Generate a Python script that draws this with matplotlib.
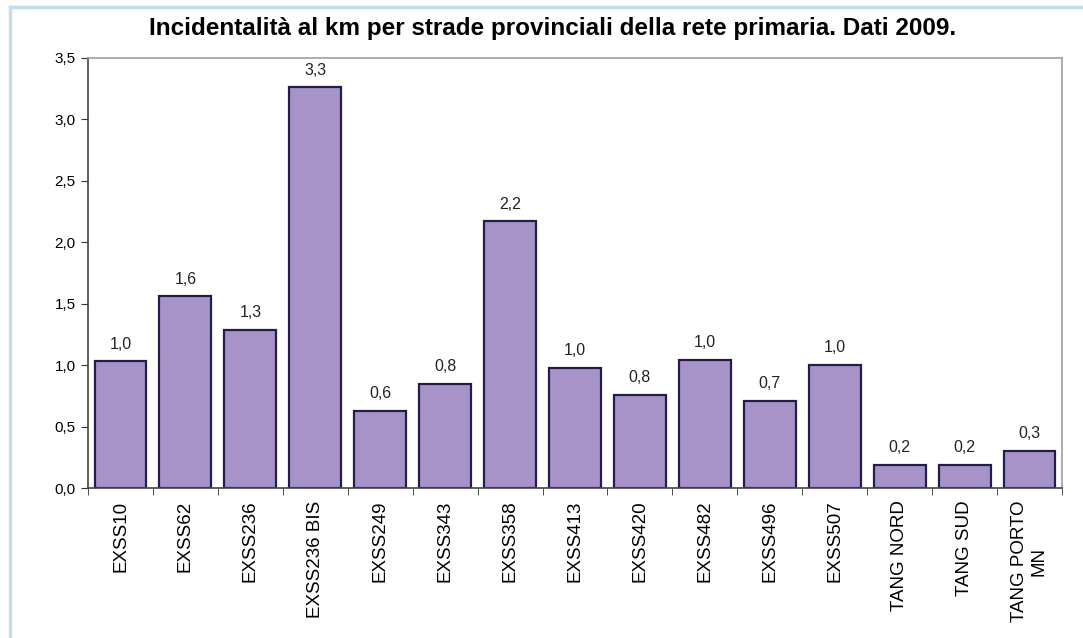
import numpy as np
import matplotlib.pyplot as plt

plt.rcParams['font.family'] = ['Liberation Sans', 'DejaVu Sans']

# strade provinciali della rete primaria
strade = ['EXSS10', 'EXSS62', 'EXSS236', 'EXSS236 BIS', 'EXSS249', 'EXSS343',
          'EXSS358', 'EXSS413', 'EXSS420', 'EXSS482', 'EXSS496', 'EXSS507',
          'TANG NORD', 'TANG SUD', 'TANG PORTO\nMN']
# incidenti per km, anno 2009
incid_km = [1.03, 1.56, 1.29, 3.26, 0.63, 0.85, 2.17, 0.98, 0.76, 1.04,
            0.71, 1.00, 0.19, 0.19, 0.30]
y_ticks = [0.0, 0.5, 1.0, 1.5, 2.0, 2.5, 3.0, 3.5]

fig = plt.figure(figsize=(10.83, 6.38), dpi=100)
fig.patch.set_facecolor('white')
ax = fig.add_axes([0.0813, 0.2351, 0.8993, 0.6740])

x = np.arange(len(strade))
ax.bar(x, incid_km, width=0.8, color='#A793C8', edgecolor='#221C50', linewidth=1.6)

for xi, v in zip(x, incid_km):
    ax.text(xi, v + 0.08, format(v, '.1f').replace('.', ','), ha='center', va='bottom',
            fontsize=11.5, color='#222222')

ax.set_xlim(-0.5, len(strade) - 0.5)
ax.set_ylim(0, 3.5)
ax.set_yticks(y_ticks)
ax.set_yticklabels([format(t, '.1f').replace('.', ',') for t in y_ticks], fontsize=11)

ax.set_xticks(x)
ax.set_xticklabels(strade, rotation=90, fontsize=13.5, multialignment='center')
ax.tick_params(axis='x', which='major', length=0, pad=9)
ax.set_xticks(np.arange(-0.5, len(strade), 1.0), minor=True)
ax.tick_params(axis='x', which='minor', length=5, direction='out', color='#333333')
ax.tick_params(axis='y', length=5, direction='out', color='#333333', pad=4)

ax.spines['left'].set_color('#444444')
ax.spines['bottom'].set_color('#444444')
ax.spines['top'].set_color('#A0A0A0')
ax.spines['right'].set_color('#A0A0A0')
for s in ax.spines.values():
    s.set_linewidth(1.2)

fig.text(0.51, 0.956, 'Incidentalità al km per strade provinciali della rete primaria. Dati 2009.',
         ha='center', va='center', fontsize=17.5, fontweight='bold')

# cornice azzurra sul bordo sinistro e superiore
fig.add_artist(plt.Line2D([0.0095, 0.0095], [0, 0.989], color='#C4DCEC', linewidth=2.5,
                          transform=fig.transFigure))
fig.add_artist(plt.Line2D([0.0095, 1.0], [0.989, 0.989], color='#C4DCEC', linewidth=2.5,
                          transform=fig.transFigure))

fig.savefig('out.png', dpi=100)
